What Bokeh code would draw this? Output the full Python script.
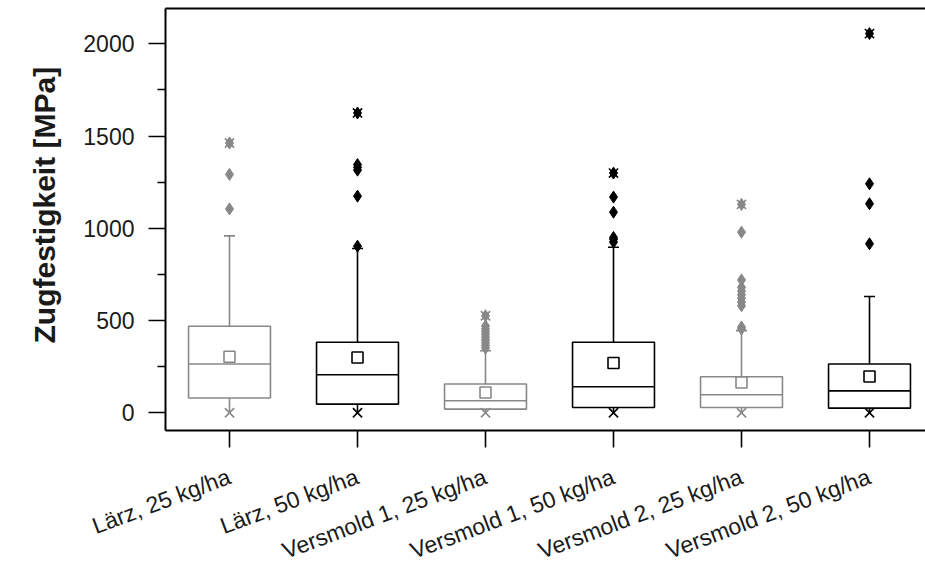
from bokeh.plotting import figure
from bokeh.models import Range1d, FixedTicker, LinearAxis, ColumnDataSource, Title
from bokeh.embed import file_html
from bokeh.resources import INLINE

categories = ["Lärz, 25 kg/ha", "Lärz, 50 kg/ha", "Versmold 1, 25 kg/ha",
              "Versmold 1, 50 kg/ha", "Versmold 2, 25 kg/ha", "Versmold 2, 50 kg/ha"]
positions = [1, 2, 3, 4, 5, 6]
q1 = [80, 47, 20, 29, 29, 25]
q3 = [469, 382, 156, 382, 195, 264]
median = [264, 206, 65, 141, 98, 119]
mean = [304, 300, 110, 270, 164, 197]
upper_whisker = [959, 890, 336, 897, 445, 630]
lower_whisker = [3, 3, 3, 3, 3, 3]
minimum = [0, 0, 0, 0, 0, 0]
maximum = [1462, 1625, 526, 1299, 1129, 2055]
outliers = [
    [1105, 1292, 1462],
    [903, 1174, 1315, 1330, 1345, 1625],
    [350, 365, 380, 395, 410, 425, 440, 455, 470, 526],
    [925, 940, 950, 1087, 1169, 1299],
    [454, 465, 580, 600, 620, 640, 660, 680, 720, 979, 1129],
    [916, 1133, 1241, 2055],
]
colors = ["#888888", "#000000", "#888888", "#000000", "#888888", "#000000"]
y_ticks = [0, 500, 1000, 1500, 2000]
y_minor = [250, 750, 1250, 1750]
y_title = "Zugfestigkeit [MPa]"

BOX_W = 0.64
FONT = "Liberation Sans"

p = figure(width=925, height=580, output_backend="svg", toolbar_location=None,
           x_range=Range1d(0.5, 6.4375), y_range=Range1d(-96, 2191),
           min_border_left=165, min_border_right=0, min_border_top=8,
           min_border_bottom=150)
p.outline_line_color = None
p.grid.visible = False
p.background_fill_color = "white"
p.border_fill_color = "white"

src = ColumnDataSource(dict(
    x=positions, q1=q1, q3=q3, med=median, mean=mean, uw=upper_whisker,
    lw=lower_whisker, mn=minimum, mx=maximum, c=colors,
    x0=[x - BOX_W / 2 for x in positions], x1=[x + BOX_W / 2 for x in positions],
))

# whiskers
p.segment(x0="x", y0="q3", x1="x", y1="uw", line_color="c", line_width=1.6, source=src)
p.segment(x0="x", y0="q1", x1="x", y1="lw", line_color="c", line_width=1.6, source=src)
p.scatter(x="x", y="uw", marker="dash", size=11, line_color="c", line_width=1.6, source=src)
# boxes
p.vbar(x="x", width=BOX_W, bottom="q1", top="q3", fill_color="white",
       line_color="c", line_width=1.6, source=src)
p.segment(x0="x0", y0="med", x1="x1", y1="med", line_color="c", line_width=1.6, source=src)
# mean
p.scatter(x="x", y="mean", marker="square", size=11, fill_color="white",
          line_color="c", line_width=1.6, source=src)

# outliers
ox, oy, oc = [], [], []
for x, vals, c in zip(positions, outliers, colors):
    for v in vals:
        ox.append(x)
        oy.append(v)
        oc.append(c)
p.scatter(x=ox, y=oy, marker="diamond", size=12, fill_color=oc, line_color=oc)

# min / max markers
p.scatter(x="x", y="mx", marker="x", size=13, line_color="c", line_width=1.6, source=src)
p.scatter(x="x", y="mn", marker="x", size=13, line_color="c", line_width=1.6, source=src)

# axes
ya = p.yaxis[0]
ya.ticker = FixedTicker(ticks=y_ticks, minor_ticks=y_minor)
ya.axis_line_width = 2
ya.major_tick_out = 17
ya.major_tick_in = 0
ya.minor_tick_out = 8
ya.minor_tick_in = 0
ya.major_tick_line_width = 1.6
ya.minor_tick_line_width = 1.6
ya.major_label_text_font = FONT
ya.major_label_text_font_size = "23px"
ya.major_label_text_color = "#1a1a1a"
ya.major_label_standoff = 14

# y axis title in the left panel
p.add_layout(Title(text=y_title, align="left", offset=87, standoff=40,
                   text_font=FONT, text_font_style="bold", text_font_size="30px",
                   text_color="#1a1a1a"), "left")

xa = p.xaxis[0]
xa.ticker = FixedTicker(ticks=positions, minor_ticks=[])
xa.major_label_overrides = {pos: lab for pos, lab in zip(positions, categories)}
xa.axis_line_width = 2
xa.major_tick_out = 17
xa.major_tick_in = 0
xa.major_tick_line_width = 1.6
xa.minor_tick_line_color = None
xa.major_label_orientation = 0.36
xa.major_label_text_font = FONT
xa.major_label_text_font_size = "23px"
xa.major_label_text_color = "#1a1a1a"
xa.major_label_standoff = 28

top = LinearAxis(ticker=FixedTicker(ticks=[]), axis_line_width=2,
                 major_tick_line_color=None, minor_tick_line_color=None,
                 major_label_text_font_size="0px", major_label_standoff=0)
p.add_layout(top, "above")

open("out.html", "w").write(file_html(p, INLINE))
